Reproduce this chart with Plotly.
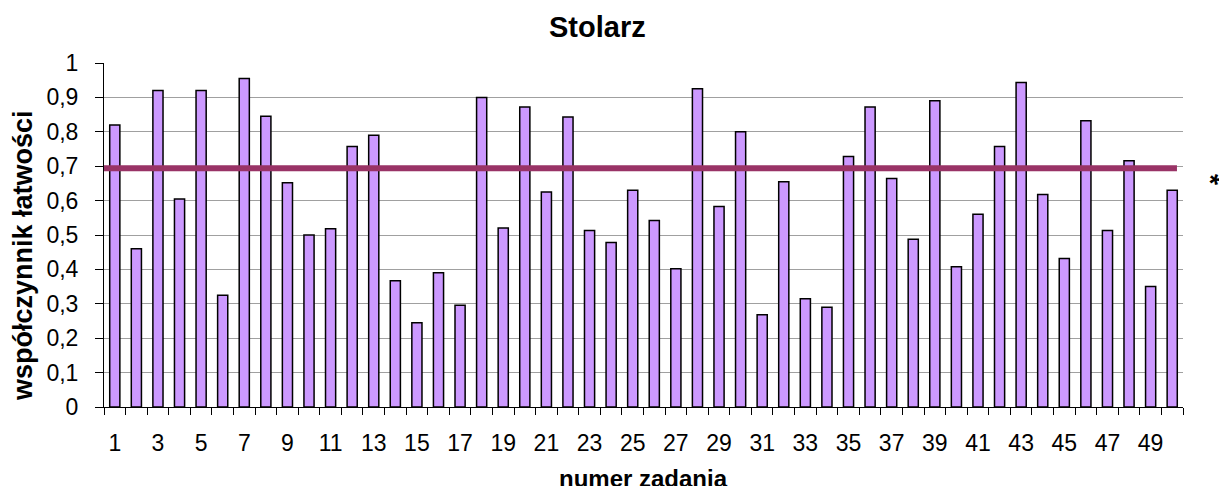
import plotly.graph_objects as go

categories = list(range(1, 51))
values = [0.82, 0.46, 0.92, 0.605, 0.92, 0.325, 0.955, 0.845, 0.652, 0.50,
          0.518, 0.757, 0.79, 0.367, 0.245, 0.39, 0.296, 0.90, 0.52, 0.872,
          0.625, 0.843, 0.513, 0.478, 0.63, 0.542, 0.402, 0.925, 0.583, 0.80,
          0.268, 0.655, 0.315, 0.29, 0.728, 0.872, 0.664, 0.488, 0.89, 0.408,
          0.56, 0.757, 0.943, 0.618, 0.432, 0.832, 0.513, 0.716, 0.35, 0.63]
threshold = 0.694
x_tick_labels = [c for c in categories if c % 2 == 1]
y_ticks = [i / 10 for i in range(11)]

title_text = "Stolarz"
x_title = "numer zadania"
y_title = "współczynnik łatwości"

font = "Liberation Sans, Arial, sans-serif"

W, H = 1219, 486
L, R, T, B = 104, 36, 63, 79
PW, PH = W - L - R, H - T - B


def px(page_x):
    return (page_x - L) / PW


def py(page_y):
    return (H - B - page_y) / PH


fig = go.Figure()
fig.add_trace(go.Bar(
    x=categories, y=values,
    marker=dict(color="#CC99FF", line=dict(color="#000000", width=1.5)),
    width=0.47, showlegend=False, hoverinfo="x+y",
))
fig.add_trace(go.Scatter(
    x=[0.5, 50.22], y=[threshold, threshold], mode="lines",
    line=dict(color="#993366", width=6), showlegend=False, hoverinfo="skip",
))

fig.update_layout(
    width=W, height=H,
    margin=dict(l=L, r=R, t=T, b=B),
    paper_bgcolor="white", plot_bgcolor="white",
    separators=", ",
    font=dict(family=font, color="#000000", size=23),
    bargap=0.5,
)
fig.update_xaxes(
    range=[0.5, 50.5],
    tickmode="array", tickvals=x_tick_labels, ticktext=[str(v) for v in x_tick_labels],
    ticks="", ticklabelstandoff=15, tickfont=dict(size=23),
    minor=dict(tickmode="array", tickvals=[c - 0.5 for c in categories] + [50.5],
               ticks="outside", ticklen=7, tickcolor="#000000", tickwidth=1, showgrid=False),
    showline=True, linecolor="#000000", linewidth=1,
    showgrid=False, zeroline=False,
)
fig.update_yaxes(
    range=[0, 1.0], tickmode="array", tickvals=y_ticks,
    ticks="outside", ticklen=8, tickcolor="#000000", ticklabelstandoff=12,
    tickfont=dict(size=23),
    showline=True, linecolor="#000000", linewidth=1,
    showgrid=True, gridcolor="#A0A0A0", gridwidth=1, zeroline=False,
)

fig.add_annotation(x=px(597), y=py(27), xref="paper", yref="paper",
                   text="<b>" + title_text + "</b>", showarrow=False,
                   xanchor="center", yanchor="middle", font=dict(size=29, family=font))
fig.add_annotation(x=px(643.5), y=py(478), xref="paper", yref="paper",
                   text="<b>" + x_title + "</b>", showarrow=False,
                   xanchor="center", yanchor="middle", font=dict(size=24, family=font))
fig.add_annotation(x=px(23), y=py(255), xref="paper", yref="paper",
                   text="<b>" + y_title + "</b>", showarrow=False, textangle=-90,
                   xanchor="center", yanchor="middle", font=dict(size=27, family=font))
fig.add_annotation(x=px(1213), y=py(183), xref="paper", yref="paper",
                   text="<b>*</b>", showarrow=False, textangle=20,
                   xanchor="center", yanchor="middle", font=dict(size=28, family=font))

fig.write_html("out.html", config={"displayModeBar": False},
               post_script="document.body.style.margin='0';document.body.style.overflow='hidden';")
